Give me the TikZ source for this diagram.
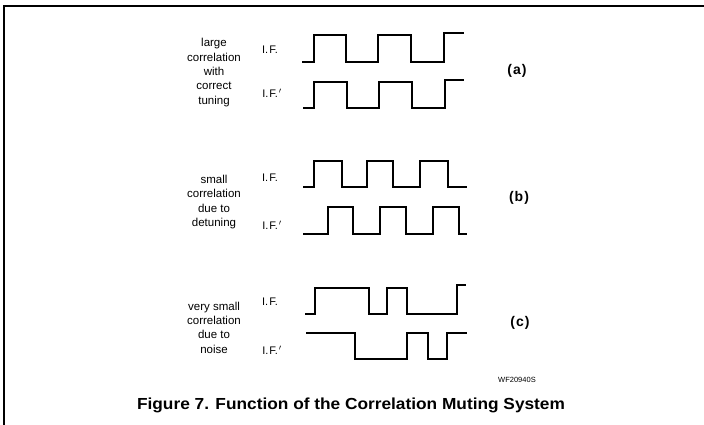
\documentclass[tikz,border=0pt]{standalone}
\usepackage{fontspec}
\setmainfont{Liberation Sans}
\begin{document}
\begin{tikzpicture}[x=1pt,y=-1pt,
  wave/.style={line width=1.7pt,line join=miter},
  frame/.style={line width=1.3pt},
  lbl/.style={font=\fontsize{11.5}{14.4}\selectfont,align=center,inner sep=0pt},
  iflbl/.style={font=\fontsize{11}{12}\selectfont,inner sep=0pt},
  tag/.style={font=\fontsize{14}{16}\selectfont\bfseries,inner sep=0pt}]
\useasboundingbox (0,0) rectangle (704,425);
% frame
\draw[frame] (3,6) -- (704,6);
\draw[frame] (4,6) -- (4,425);
% (a)
\node[lbl] (ta) at (214,72.5) {large\\correlation\\with\\correct\\tuning};
\node[iflbl] (ifa) at (270,50) {I.\kern1pt F.};
\node[iflbl] (ifpa) at (272,93) {I.\kern1pt F.\kern1pt$'$};
\draw[wave] (302,62)--(314,62)--(314,35)--(346,35)--(346,62)--(378,62)--(378,35)--(411,35)--(411,62)--(444,62)--(444,33)--(464,33);
\draw[wave] (303,108)--(314,108)--(314,82)--(347,82)--(347,108)--(379,108)--(379,82)--(412,82)--(412,108)--(445,108)--(445,80)--(464,80);
\node[tag] (a) at (517,71) {(\kern1pt a\kern1pt)};
% (b)
\node[lbl] (tb) at (214,202) {small\\correlation\\due to\\detuning};
\node[iflbl] (ifb) at (270,178) {I.\kern1pt F.};
\node[iflbl] (ifpb) at (272,225) {I.\kern1pt F.\kern1pt$'$};
\draw[wave] (303,187)--(314,187)--(314,161)--(342,161)--(342,187)--(367,187)--(367,161)--(393,161)--(393,187)--(420,187)--(420,161)--(448,161)--(448,187)--(467,187);
\draw[wave] (303,234)--(328,234)--(328,207)--(353,207)--(353,234)--(380,234)--(380,207)--(406,207)--(406,234)--(433,234)--(433,207)--(459,207)--(459,234)--(467,234);
\node[tag] (b) at (519,198) {(\kern1pt b\kern1pt)};
% (c)
\node[lbl] (tc) at (214,327.5) {very small\\correlation\\due to\\noise};
\node[iflbl] (ifc) at (270,302) {I.\kern1pt F.};
\node[iflbl] (ifpc) at (272,350) {I.\kern1pt F.\kern1pt$'$};
\draw[wave] (305,314)--(315,314)--(315,288)--(369,288)--(369,314)--(387,314)--(387,288)--(407,288)--(407,314)--(457,314)--(457,285)--(466,285);
\draw[wave] (306,333)--(355,333)--(355,359)--(407,359)--(407,333)--(428,333)--(428,359)--(447,359)--(447,333)--(467,333);
\node[tag] (c) at (520,323) {(\kern1pt c\kern1pt)};
% id and caption
\node[inner sep=0pt,font=\fontsize{7.5}{9}\selectfont] (id) at (517,380) {WF20940S};
\node[inner sep=0pt] (cap) at (351,405) {\scalebox{1.08}[1]{\fontsize{16}{19}\selectfont\bfseries Figure 7. Function of the Correlation Muting System}};
\end{tikzpicture}
\end{document}
